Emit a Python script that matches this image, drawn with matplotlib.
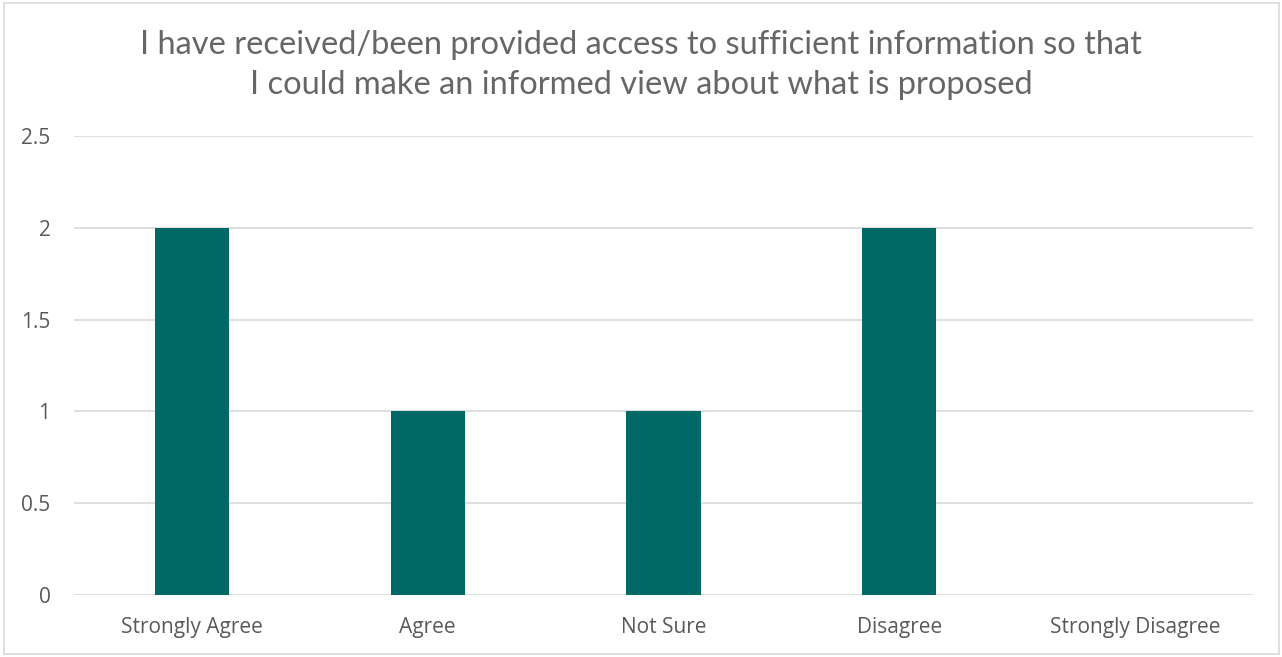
import matplotlib
matplotlib.use("Agg")
import matplotlib.pyplot as plt
from matplotlib.patches import Rectangle

categories = ["Strongly Agree", "Agree", "Not Sure", "Disagree", "Strongly Disagree"]
counts = [2, 1, 1, 2, 0]
y_ticks = [0, 0.5, 1, 1.5, 2, 2.5]
y_tick_labels = ["0", "0.5", "1", "1.5", "2", "2.5"]
title = ("I have received/been provided access to sufficient information so that\n"
         "I could make an informed view about what is proposed")

W, H, DPI = 1282, 657, 100
fig = plt.figure(figsize=(W / DPI, H / DPI), dpi=DPI)
fig.patch.set_facecolor("white")

# outer chart border
fig.add_artist(Rectangle((4 / W, 3 / H), 1275 / W, 651 / H, transform=fig.transFigure,
                         fill=False, edgecolor="#d9d9d9", linewidth=1.2))

left, right, top, bottom = 74, 1253, 136, 595
ax = fig.add_axes([left / W, 1 - bottom / H, (right - left) / W, (bottom - top) / H])

x = range(len(categories))
ax.bar(x, counts, width=0.314, color="#006966", zorder=3)

ax.set_xlim(-0.5, len(categories) - 0.5)
ax.set_ylim(0, 2.5)
ax.set_yticks(y_ticks)
ax.set_yticklabels(y_tick_labels)
ax.set_xticks(list(x))
ax.set_xticklabels(categories)

for s in ax.spines.values():
    s.set_visible(False)
ax.grid(axis="y", color="#d9d9d9", linewidth=1.2, zorder=0)
ax.tick_params(axis="both", length=0, labelsize=15, labelcolor="#595959")
ax.tick_params(axis="y", pad=17)
ax.tick_params(axis="x", pad=16)
for lab in ax.get_xticklabels() + ax.get_yticklabels():
    lab.set_fontfamily(["Open Sans", "DejaVu Sans"])

fig.text(0.5, 1 - 65 / H, title, ha="center", va="center", fontsize=23.5,
         color="#666666", family=["Lato", "DejaVu Sans"], fontweight="normal",
         linespacing=1.42)

fig.savefig("out.png", dpi=DPI)
